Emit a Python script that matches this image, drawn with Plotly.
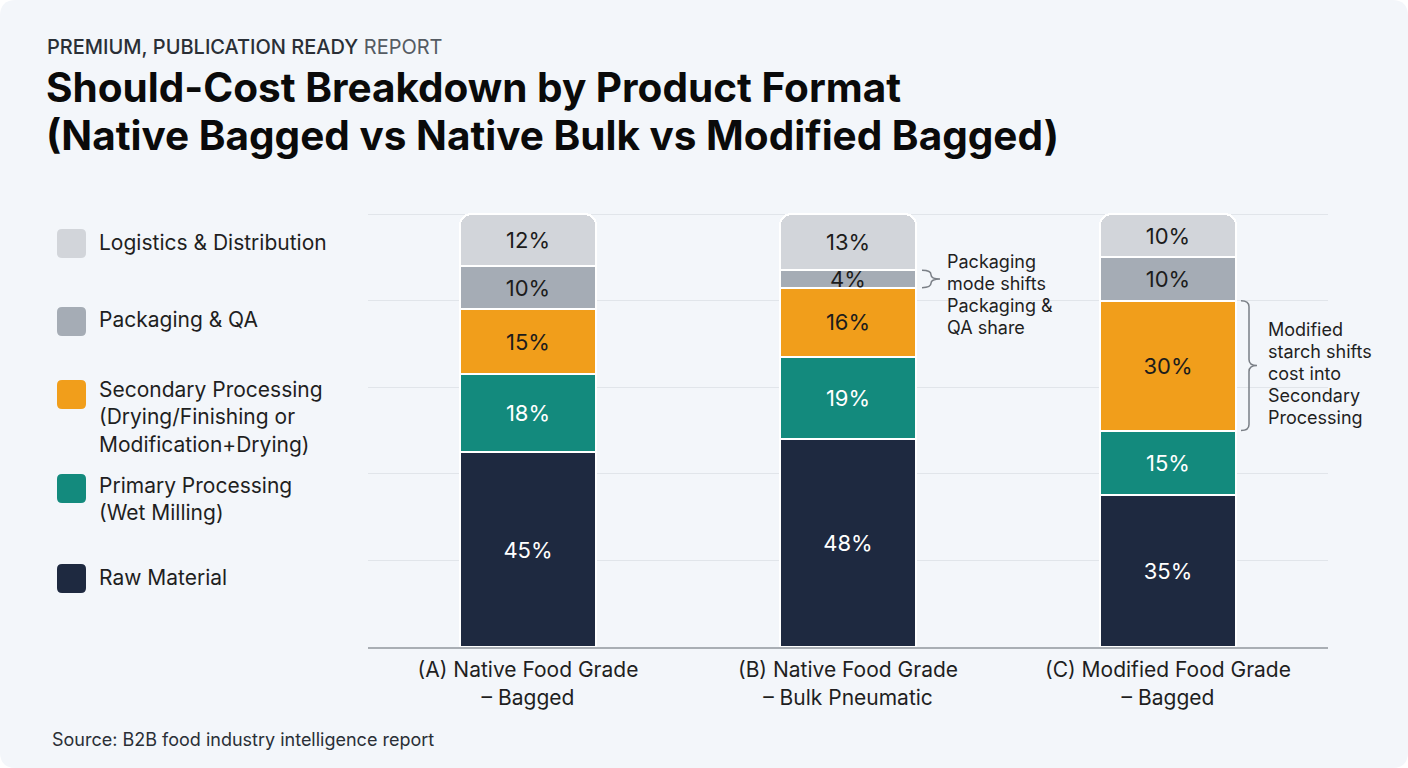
import plotly.graph_objects as go

# ---------------- data ----------------
formats = ["(A) Native Food Grade<br>– Bagged",
           "(B) Native Food Grade<br>– Bulk Pneumatic",
           "(C) Modified Food Grade<br>– Bagged"]
raw_material = [45, 48, 35]
primary_processing = [18, 19, 15]
secondary_processing = [15, 16, 30]
packaging_qa = [10, 4, 10]
logistics = [12, 13, 10]

series_names = ["Raw Material", "Primary Processing<br>(Wet Milling)",
                "Secondary Processing<br>(Drying/Finishing or<br>Modification+Drying)",
                "Packaging & QA", "Logistics & Distribution"]
series_values = [raw_material, primary_processing, secondary_processing, packaging_qa, logistics]
series_colors = ["#1e2940", "#138a7d", "#f19e1b", "#a5acb5", "#d2d5da"]
text_colors = ["#ffffff", "#ffffff", "#1c1c1c", "#1c1c1c", "#1c1c1c"]

note_b = ["Packaging", "mode shifts", "Packaging &", "QA share"]
note_c = ["Modified", "starch shifts", "cost into", "Secondary", "Processing"]

# ---------------- geometry ----------------
FW, FH = 1408, 768
L, R, T, B = 368, 80, 213, 121
PW, PH = FW - L - R, FH - T - B
BASE = FH - B
YMAX = 100.25


def px_x(px):
    return (px - L) / PW


def px_y(py):
    return (BASE - py) / PH


xs = list(range(len(formats)))
fig = go.Figure()
for name, vals, col, tc in zip(series_names, series_values, series_colors, text_colors):
    fig.add_trace(go.Bar(
        x=xs, y=vals, name=name, width=0.425,
        marker=dict(color=col, line=dict(color="#ffffff", width=2)),
        texttemplate="%{y}%", textposition="inside", insidetextanchor="middle",
        textangle=0, textfont=dict(family="Inter", size=22, color=tc),
        hoverinfo="skip", showlegend=False,
    ))

shapes = []
annotations = []

# card background
x0, x1, y0, y1 = px_x(0), px_x(FW), px_y(FH), px_y(0)
rx, ry = 16 / PW, 16 / PH
card = (f"M {x0+rx},{y1} L {x1-rx},{y1} Q {x1},{y1} {x1},{y1-ry} L {x1},{y0+ry} "
        f"Q {x1},{y0} {x1-rx},{y0} L {x0+rx},{y0} Q {x0},{y0} {x0},{y0+ry} "
        f"L {x0},{y1-ry} Q {x0},{y1} {x0+rx},{y1} Z")
shapes.append(dict(type="path", xref="paper", yref="paper", path=card,
                   fillcolor="#f3f6fa", line=dict(width=0), layer="below"))

# legend (custom, top to bottom)
legend_items = [
    ("Logistics & Distribution", series_colors[4], 229, 228),
    ("Packaging & QA", series_colors[3], 307, 305),
    ("Secondary Processing<br>(Drying/Finishing or<br>Modification+Drying)", series_colors[2], 380, 375),
    ("Primary Processing<br>(Wet Milling)", series_colors[1], 474, 471),
    ("Raw Material", series_colors[0], 564, 563),
]
for label, col, sq_top, txt_top in legend_items:
    sx0, sx1 = px_x(57), px_x(86)
    sy1, sy0 = px_y(sq_top), px_y(sq_top + 29)
    rrx, rry = 5 / PW, 5 / PH
    path = (f"M {sx0+rrx},{sy1} L {sx1-rrx},{sy1} Q {sx1},{sy1} {sx1},{sy1-rry} L {sx1},{sy0+rry} "
            f"Q {sx1},{sy0} {sx1-rrx},{sy0} L {sx0+rrx},{sy0} Q {sx0},{sy0} {sx0},{sy0+rry} "
            f"L {sx0},{sy1-rry} Q {sx0},{sy1} {sx0+rrx},{sy1} Z")
    shapes.append(dict(type="path", xref="paper", yref="paper", path=path,
                       fillcolor=col, line=dict(width=0)))
    annotations.append(dict(xref="paper", yref="paper", x=px_x(97), y=px_y(txt_top),
                            xanchor="left", yanchor="top", align="left", showarrow=False,
                            text=label, font=dict(family="Inter", size=21, color="#1f1f1f")))


# braces (data coordinates)
def brace(xl, width_px, ylo, yhi):
    w = width_px / PW * 3
    uy = YMAX / PH
    ym = (ylo + yhi) / 2
    r = min(6 * uy, (yhi - ylo) / 4)
    xm = xl + w / 2
    return (f"M {xl},{yhi} Q {xm},{yhi} {xm},{yhi-r} L {xm},{ym+r} Q {xm},{ym} {xl+w},{ym} "
            f"Q {xm},{ym} {xm},{ym-r} L {xm},{ylo+r} Q {xm},{ylo} {xl},{ylo}")


px_unit = 3 / PW  # data units per pixel on x
bB_lo = raw_material[1] + primary_processing[1] + secondary_processing[1]
bB_hi = bB_lo + packaging_qa[1]
shapes.append(dict(type="path", xref="x", yref="y",
                   path=brace(1 + 0.2125 + 6 * px_unit, 18, bB_lo, bB_hi),
                   line=dict(color="#7a7f86", width=1.5)))
bC_lo = raw_material[2] + primary_processing[2]
bC_hi = bC_lo + secondary_processing[2]
shapes.append(dict(type="path", xref="x", yref="y",
                   path=brace(2 + 0.2125 + 5 * px_unit, 16, bC_lo, bC_hi),
                   line=dict(color="#7a7f86", width=1.5)))

for lines, lx, ly0 in [(note_b, 945, 261), (note_c, 1266, 329)]:
    for i, t in enumerate(lines):
        annotations.append(dict(xref="paper", yref="paper", x=px_x(lx), y=px_y(ly0 + 22 * i),
                                xanchor="left", yanchor="middle", align="left", showarrow=False,
                                text=t, font=dict(family="Inter", size=18, color="#1f1f1f")))

# titles
annotations.append(dict(xref="paper", yref="paper", x=px_x(45), y=px_y(47),
                        xanchor="left", yanchor="middle", showarrow=False,
                        text="<span style='font-weight:500'>PREMIUM, PUBLICATION READY</span> "
                             "<span style='color:#555b63'>REPORT</span>",
                        font=dict(family="Inter", size=20, color="#2a2f36")))
for line, cy in [("Should-Cost Breakdown by Product Format", 88),
                 ("(Native Bagged vs Native Bulk vs Modified Bagged)", 135)]:
    annotations.append(dict(xref="paper", yref="paper", x=px_x(44), y=px_y(cy),
                            xanchor="left", yanchor="middle", align="left", showarrow=False,
                            text=f"<b>{line}</b>",
                            font=dict(family="Inter", size=40.5, color="#0a0a0a")))
annotations.append(dict(xref="paper", yref="paper", x=px_x(50), y=px_y(739),
                        xanchor="left", yanchor="middle", showarrow=False,
                        text="Source: B2B food industry intelligence report",
                        font=dict(family="Inter", size=18, color="#2a2f36")))

fig.update_layout(
    width=FW, height=FH,
    margin=dict(l=L, r=R, t=T, b=B, pad=0),
    barmode="stack", barcornerradius=11,
    paper_bgcolor="#ffffff", plot_bgcolor="rgba(0,0,0,0)",
    shapes=shapes, annotations=annotations,
    uniformtext=dict(minsize=22, mode="show"),
    font=dict(family="Inter", color="#1f1f1f"),
    xaxis=dict(range=[-0.5, 2.5], tickvals=xs, ticktext=formats, showgrid=False,
               zeroline=False, showline=True, linecolor="#a9aeb4", linewidth=2,
               ticks="", ticklabelstandoff=3,
               tickfont=dict(family="Inter", size=21, color="#1f1f1f"),
               fixedrange=True),
    yaxis=dict(range=[0, YMAX], tickvals=[0, 20, 40, 60, 80, 100], showticklabels=False,
               showgrid=True, gridcolor="#e1e5ea", gridwidth=1, zeroline=False,
               fixedrange=True),
    hovermode=False,
)

fig.write_html("out.html", config=dict(displayModeBar=False))
